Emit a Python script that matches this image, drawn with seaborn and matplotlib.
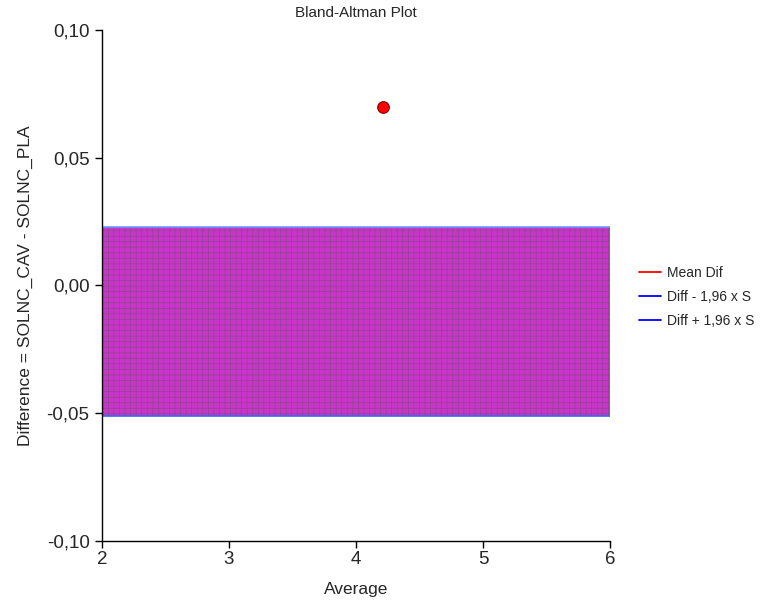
import matplotlib
matplotlib.use("Agg")
import matplotlib.pyplot as plt
import seaborn as sns
import pandas as pd
from matplotlib.ticker import FuncFormatter, FixedLocator
from matplotlib.lines import Line2D

# Data
avg_values = [4.21]
diff_values = [0.070]
mean_dif = -0.014
lower_limit = -0.051
upper_limit = 0.023
x_ticks = [2, 3, 4, 5, 6]
y_ticks = [-0.10, -0.05, 0.00, 0.05, 0.10]
legend_labels = ["Mean Dif", "Diff - 1,96 x S", "Diff + 1,96 x S"]

sns.set_style("white")
plt.rcParams['font.family'] = ['Liberation Sans', 'DejaVu Sans']
plt.rcParams['hatch.linewidth'] = 0.5

fig = plt.figure(figsize=(7.63, 6.12), dpi=100)
ax = fig.add_axes([0.1337, 0.116, 0.7995 - 0.1337, 0.951 - 0.116])

ax.fill_between([x_ticks[0], x_ticks[-1]], lower_limit, upper_limit,
                facecolor='#cc33cc', edgecolor='#8a4a8a', hatch='+++', linewidth=0, zorder=1)
ax.axhline(mean_dif, color='red', lw=1, zorder=0)
ax.plot([x_ticks[0], x_ticks[-1]], [lower_limit, lower_limit], color='#3366ff', lw=1.2, zorder=2)
ax.plot([x_ticks[0], x_ticks[-1]], [upper_limit, upper_limit], color='#6699ff', lw=1.2, zorder=2)

df = pd.DataFrame({"Average": avg_values, "Difference": diff_values})
sns.scatterplot(data=df, x="Average", y="Difference", ax=ax, color='red',
                edgecolor='#800000', s=70, linewidth=0.8, zorder=3)

ax.set_xlim(2, 6)
ax.set_ylim(-0.10, 0.10)
ax.xaxis.set_major_locator(FixedLocator(x_ticks))
ax.yaxis.set_major_locator(FixedLocator(y_ticks))
ax.yaxis.set_major_formatter(FuncFormatter(lambda v, p: f"{v:.2f}".replace('.', ',')))
ax.xaxis.set_major_formatter(FuncFormatter(lambda v, p: f"{v:g}"))
for s in ['top', 'right']:
    ax.spines[s].set_visible(False)
for s in ['left', 'bottom']:
    ax.spines[s].set_color('black')
    ax.spines[s].set_linewidth(1)
ax.tick_params(axis='both', which='major', direction='out', length=5, width=1,
               color='black', labelsize=13.5, bottom=True, left=True)
ax.tick_params(axis='x', pad=2)
ax.tick_params(axis='y', pad=4)

ax.set_xlabel("Average", fontsize=12.5, labelpad=10)
ax.set_ylabel("Difference = SOLNC_CAV - SOLNC_PLA", fontsize=12.5, labelpad=10)
ax.set_title("Bland-Altman Plot", fontsize=11, pad=9)

handles = [Line2D([0], [0], color='red', lw=1.3),
           Line2D([0], [0], color='blue', lw=1.3),
           Line2D([0], [0], color='blue', lw=1.3)]
fig.legend(handles, legend_labels, loc='upper left', bbox_to_anchor=(0.838, 0.566),
           frameon=False, fontsize=10, handlelength=1.55, labelspacing=0.72,
           handletextpad=0.45, borderpad=0, borderaxespad=0)

fig.savefig("out.png", dpi=100)
